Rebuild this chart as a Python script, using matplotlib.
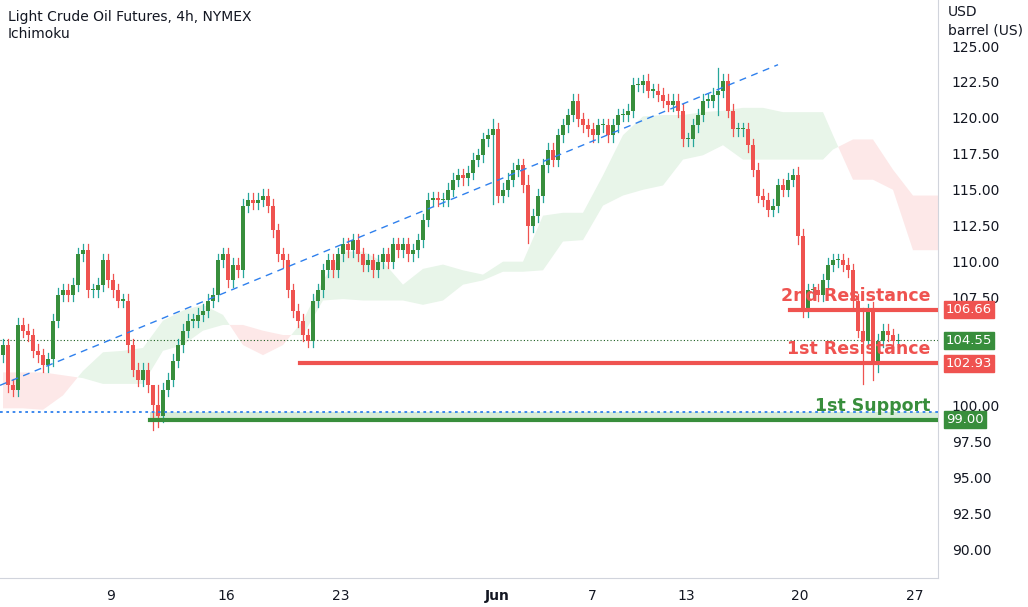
import matplotlib
matplotlib.use("Agg")
import matplotlib.pyplot as plt
import numpy as np

# 4h closes, one candle per slot
closes = [104.2, 101.4, 101.1, 105.6, 105.2, 104.9, 103.8, 103.5, 102.8, 103.2,
          105.9, 107.7, 108.0, 107.7, 108.4, 110.5, 110.8, 108.0, 108.0, 108.4,
          110.1, 108.7, 108.0, 107.3, 107.3, 104.2, 102.5, 101.8, 102.5, 101.4,
          100.0, 99.3, 101.1, 101.8, 103.1, 104.2, 105.2, 105.9, 105.9, 106.3,
          106.6, 107.3, 107.7, 110.1, 110.5, 108.7, 109.8, 109.4, 113.9, 114.3,
          114.1, 114.3, 114.6, 113.9, 112.2, 110.5, 110.1, 108.0, 106.6, 105.9,
          104.9, 104.5, 107.3, 108.0, 109.4, 110.1, 109.4, 110.5, 111.2, 110.8,
          111.5, 110.5, 109.8, 110.1, 109.4, 110.0, 110.5, 110.0, 111.2, 110.8,
          111.2, 110.5, 110.8, 111.5, 112.9, 114.3, 114.4, 114.3, 114.3, 115.0,
          115.7, 116.0, 115.8, 116.2, 117.1, 117.4, 118.5, 118.8, 119.2, 114.6,
          115.0, 115.7, 116.4, 116.7, 115.3, 112.5, 113.2, 114.6, 116.7, 117.8,
          117.1, 118.8, 119.5, 120.2, 121.2, 119.9, 119.5, 119.2, 118.8, 119.5,
          119.5, 118.8, 119.5, 120.2, 120.2, 120.5, 122.3, 122.3, 122.6, 121.9,
          121.9, 121.6, 121.2, 120.9, 121.2, 120.5, 118.5, 118.5, 119.5, 120.2,
          121.2, 121.2, 121.6, 121.9, 122.6, 120.5, 119.2, 119.2, 119.2, 118.1,
          116.4, 114.6, 114.3, 113.6, 113.9, 115.3, 115.0, 115.7, 116.0, 111.8,
          106.6, 108.0, 108.0, 107.7, 108.7, 109.8, 110.1, 110.1, 109.8, 109.4,
          107.3, 105.2, 104.5, 106.6, 102.8, 104.5, 105.2, 104.9, 104.5, 104.55]
first_open = 103.5
# notable wick extremes: candle index -> (high, low)
wick_extremes = {30: (100.6, 98.3), 31: (101.4, 98.5), 143: (123.5, 120.2),
                 128: (123.0, 121.8), 172: (106.8, 101.5), 174: (107.2, 101.8),
                 98: (119.9, 114.0), 105: (116.0, 111.3), 159: (116.6, 111.2)}

# Ichimoku cloud (leading spans), sampled every 4 candles
cloud_x = [0, 4, 8, 12, 16, 20, 24, 28, 32, 36, 40, 44, 48, 52, 56, 60, 64, 68,
           72, 76, 80, 84, 88, 92, 96, 100, 104, 108, 112, 116, 120, 124, 128,
           132, 136, 140, 144, 148, 152, 156, 160, 164, 166, 170, 174, 178, 182, 186, 188]
span_a = [99.8, 99.8, 99.7, 100.7, 102.4, 103.7, 103.8, 104.0, 105.9, 106.6,
          107.0, 106.3, 104.2, 103.5, 104.2, 105.9, 108.7, 110.7, 110.7, 110.0,
          108.4, 109.5, 109.8, 109.4, 109.1, 110.0, 110.0, 113.2, 113.4, 113.4,
          116.0, 118.8, 120.1, 120.2, 120.2, 120.4, 120.5, 120.7, 120.7, 120.4,
          120.4, 120.4, 118.8, 115.7, 115.7, 115.0, 110.8, 110.8, 110.8]
span_b = [102.3, 102.3, 102.3, 102.1, 101.9, 101.5, 101.5, 101.5, 103.8, 104.2,
          105.2, 105.6, 105.6, 105.2, 104.9, 104.9, 107.3, 107.4, 107.3, 107.3,
          107.3, 107.0, 107.3, 108.4, 108.7, 109.3, 109.3, 109.4, 111.4, 111.5,
          113.9, 114.6, 115.0, 115.3, 117.1, 117.4, 118.1, 117.1, 117.1, 117.1,
          117.1, 117.1, 117.8, 118.5, 118.5, 116.4, 114.6, 114.6, 114.6]

trend_start = (-0.6, 101.4)
trend_end = (155.0, 123.7)
support = 99.00
support_dotted = 99.55
resistance_1 = 102.93
resistance_2 = 106.66
last_price = 104.55

price_ticks = [90.0, 92.5, 95.0, 97.5, 100.0, 102.5, 105.0, 107.5, 110.0,
               112.5, 115.0, 117.5, 120.0, 122.5, 125.0]
hidden_ticks = [102.5, 105.0]  # covered by the price tags
date_tick_pos = [21.6, 44.6, 67.6, 98.8, 117.8, 136.6, 159.4, 182.4]
date_tick_labels = ["9", "16", "23", "Jun", "7", "13", "20", "27"]

GREEN = "#388e3c"
GREEN_WICK = "#26a69a"
RED = "#ef5350"
TEXT = "#131722"

fig = plt.figure(figsize=(10.28, 6.07), dpi=100)
ax = fig.add_axes([0, 1 - 578 / 607, 938 / 1028, 578 / 607])
ax.set_xlim(-0.6, 187)
ax.set_ylim(88.0, 128.2)

# cloud
cx = np.array(cloud_x, dtype=float)
a = np.array(span_a)
b = np.array(span_b)
ax.fill_between(cx, a, b, where=a >= b, interpolate=True, color="#e8f5e9", lw=0, zorder=1)
ax.fill_between(cx, a, b, where=a < b, interpolate=True, color="#fde8e8", lw=0, zorder=1)

# candles
opens = [first_open] + closes[:-1]
for i, (o, c) in enumerate(zip(opens, closes)):
    hi = max(o, c) + 0.45
    lo = min(o, c) - 0.45
    if i in wick_extremes:
        hi, lo = wick_extremes[i]
    up = c >= o
    ax.plot([i, i], [lo, hi], color=GREEN_WICK if up else RED, lw=0.9, zorder=3)
    h = max(abs(c - o), 0.08)
    ax.add_patch(plt.Rectangle((i - 0.36, min(o, c)), 0.72, h,
                               color=GREEN if up else RED, lw=0, zorder=4))

# trend line and levels
ax.plot([trend_start[0], trend_end[0]], [trend_start[1], trend_end[1]],
        color="#2f80ed", lw=1, ls=(0, (5, 4)), zorder=5)
ax.axhline(support_dotted, color="#2f80ed", lw=1.3, ls=(0, (1.5, 2)), zorder=5)
ax.fill_between([29.4, 187], support, support_dotted, color="#c8e6c9", alpha=0.7, lw=0, zorder=2)
ax.plot([29.4, 187], [support, support], color=GREEN, lw=3, zorder=6)
ax.plot([59.4, 187], [resistance_1, resistance_1], color=RED, lw=3, zorder=6)
ax.plot([157.4, 187], [resistance_2, resistance_2], color=RED, lw=3, zorder=6)
ax.axhline(last_price, color="#1b5e20", lw=0.8, ls=(0, (1, 2)), zorder=2)

ax.text(185.5, resistance_2 + 0.35, "2nd Resistance", color=RED, fontsize=12.5,
        fontweight="bold", ha="right", va="bottom", zorder=7)
ax.text(185.5, resistance_1 + 0.35, "1st Resistance", color=RED, fontsize=12.5,
        fontweight="bold", ha="right", va="bottom", zorder=7)
ax.text(185.5, support + 0.35, "1st Support", color=GREEN, fontsize=12.5,
        fontweight="bold", ha="right", va="bottom", zorder=7)

# axes styling
for s in ["top", "left"]:
    ax.spines[s].set_visible(False)
ax.spines["right"].set_color("#d1d4dc")
ax.spines["bottom"].set_color("#d1d4dc")
ax.yaxis.tick_right()
ax.set_yticks(price_ticks)
ax.set_yticklabels(["" if p in hidden_ticks else f"{p:.2f}" for p in price_ticks])
ax.tick_params(axis="y", length=0, pad=10, labelsize=10, labelcolor=TEXT)
ax.set_xticks(date_tick_pos)
ax.set_xticklabels(date_tick_labels)
ax.tick_params(axis="x", length=0, pad=8, labelsize=10, labelcolor=TEXT)
for lbl in ax.get_xticklabels():
    if lbl.get_text() == "Jun":
        lbl.set_fontweight("bold")

# price tags on the right axis
for val, col in [(resistance_2, RED), (last_price, GREEN), (resistance_1, RED), (support, GREEN)]:
    ax.text(188.6, val, f"{val:.2f}", color="white", fontsize=9.5, ha="left", va="center",
            bbox=dict(boxstyle="square,pad=0.15", fc=col, ec=col), zorder=8, clip_on=False)

fig.text(8 / 1028, 1 - 17 / 607, "Light Crude Oil Futures, 4h, NYMEX", fontsize=10,
         color=TEXT, va="center")
fig.text(8 / 1028, 1 - 34 / 607, "Ichimoku", fontsize=10, color=TEXT, va="center")
fig.text(948 / 1028, 1 - 12 / 607, "USD", fontsize=10, color=TEXT, va="center")
fig.text(948 / 1028, 1 - 31 / 607, "barrel (US)", fontsize=10, color=TEXT, va="center")

fig.savefig("out.png", dpi=100)
